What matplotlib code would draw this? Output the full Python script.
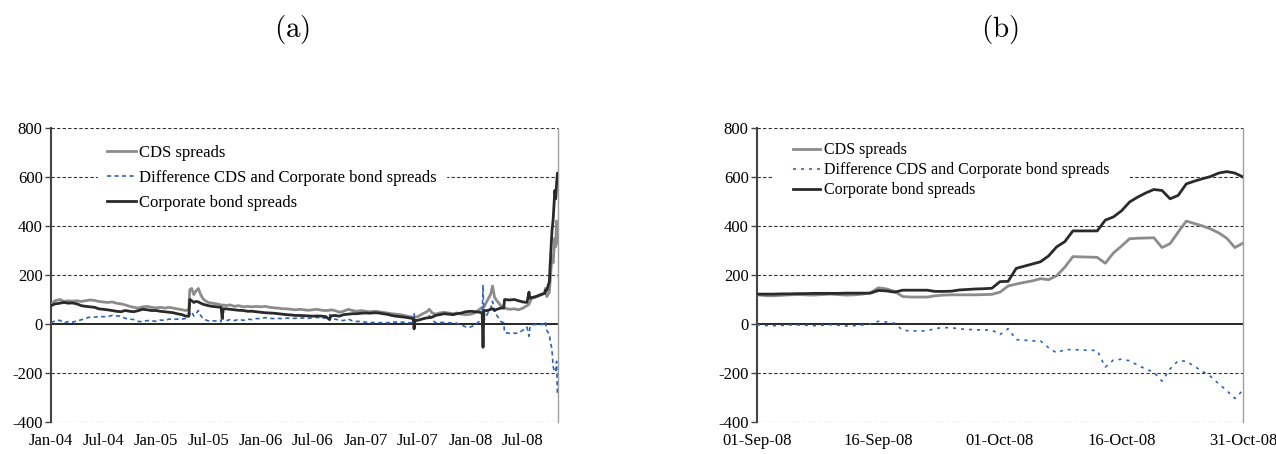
import matplotlib
matplotlib.use("Agg")
import matplotlib.pyplot as plt
import matplotlib.dates as mdates
import numpy as np
import pandas as pd

plt.rcParams["font.family"] = ["Liberation Serif", "DejaVu Serif"]
plt.rcParams["mathtext.fontset"] = "cm"
plt.rcParams["axes.unicode_minus"] = False

# ---- panel (a): Jan 2004 - Oct 2008, spreads in basis points ----
long_dates = [
    "2004-01-01", "2004-01-15", "2004-02-01", "2004-02-15", "2004-03-01", "2004-03-15",
    "2004-04-01", "2004-04-15", "2004-05-01", "2004-05-15", "2004-06-01", "2004-06-15",
    "2004-07-01", "2004-07-15", "2004-08-01", "2004-08-15", "2004-09-01", "2004-09-15",
    "2004-10-01", "2004-10-15", "2004-11-01", "2004-11-15", "2004-12-01", "2004-12-15",
    "2005-01-01", "2005-01-15", "2005-02-01", "2005-02-15", "2005-03-01", "2005-03-15",
    "2005-04-01", "2005-04-15", "2005-04-25", "2005-04-28", "2005-05-05", "2005-05-12",
    "2005-05-20", "2005-05-28", "2005-06-05", "2005-06-15", "2005-07-01", "2005-07-15",
    "2005-08-01", "2005-08-15", "2005-08-19", "2005-08-23", "2005-09-01", "2005-09-15",
    "2005-10-01", "2005-10-15", "2005-11-01", "2005-11-15", "2005-12-01", "2005-12-15",
    "2006-01-01", "2006-01-15", "2006-02-01", "2006-02-15", "2006-03-01", "2006-03-15",
    "2006-04-01", "2006-04-15", "2006-05-01", "2006-05-15", "2006-06-01", "2006-06-15",
    "2006-07-01", "2006-07-15", "2006-08-01", "2006-08-15", "2006-08-28", "2006-09-01",
    "2006-09-15", "2006-10-01", "2006-10-15", "2006-11-01", "2006-11-15", "2006-12-01",
    "2006-12-15", "2007-01-01", "2007-01-15", "2007-02-01", "2007-02-15", "2007-03-01",
    "2007-03-15", "2007-04-01", "2007-04-15", "2007-05-01", "2007-05-15", "2007-06-01",
    "2007-06-15", "2007-06-18", "2007-06-21", "2007-07-01", "2007-07-15", "2007-08-01",
    "2007-08-10", "2007-08-20", "2007-09-01", "2007-09-15", "2007-10-01", "2007-10-15",
    "2007-11-01", "2007-11-15", "2007-12-01", "2007-12-15", "2008-01-01", "2008-01-15",
    "2008-02-01", "2008-02-10", "2008-02-13", "2008-02-16", "2008-03-01", "2008-03-10",
    "2008-03-17", "2008-03-24", "2008-04-01", "2008-04-15", "2008-04-25", "2008-04-28",
    "2008-05-15", "2008-06-01", "2008-06-15", "2008-07-01", "2008-07-15", "2008-07-22",
    "2008-07-25", "2008-08-01", "2008-08-15", "2008-09-01", "2008-09-15", "2008-09-17",
    "2008-09-22", "2008-10-01", "2008-10-03", "2008-10-10", "2008-10-14", "2008-10-20",
    "2008-10-23", "2008-10-26", "2008-10-29", "2008-10-31",
]
long_cds = [
    80, 95, 100, 92, 95, 93,
    95, 92, 95, 98, 96, 92,
    90, 88, 90, 85, 82, 78,
    72, 68, 65, 70, 72, 68,
    66, 68, 65, 68, 65, 62,
    58, 55, 60, 140, 145, 120,
    135, 145, 120, 100, 88, 85,
    82, 78, 75, 78, 75, 78,
    72, 75, 70, 72, 70, 72,
    70, 72, 68, 66, 65, 62,
    62, 60, 58, 60, 58, 56,
    58, 60, 56, 55, 56, 58,
    55, 48, 52, 60, 55, 52,
    55, 52, 50, 52, 50, 48,
    45, 42, 40, 38, 35, 30,
    28, 25, 28, 30, 40, 50,
    60, 45, 40, 45, 48, 45,
    42, 45, 40, 38, 40, 45,
    60, 68, 65, 70, 100, 120,
    155, 110, 95, 75, 70, 65,
    60, 62, 58, 65, 75, 80,
    90, 105, 110, 118, 125, 145,
    112, 130, 165, 275, 250, 350,
    315, 420, 330, 330,
]
long_bond = [
    75, 82, 85, 88, 85, 86,
    82, 75, 72, 70, 68, 62,
    60, 58, 55, 52, 50, 55,
    52, 50, 55, 60, 58, 55,
    55, 52, 50, 48, 46, 42,
    38, 32, 32, 100, 95, 88,
    92, 90, 85, 80, 75, 72,
    70, 68, 25, 62, 62, 60,
    58, 56, 55, 52, 52, 50,
    48, 46, 45, 44, 42, 40,
    38, 37, 35, 35, 34, 33,
    32, 33, 32, 30, 18, 33,
    35, 32, 38, 40, 42, 42,
    44, 45, 44, 46, 45, 42,
    40, 35, 32, 30, 28, 25,
    22, -20, 15, 15, 20, 25,
    26, 28, 35, 38, 42, 40,
    38, 42, 45, 50, 52, 50,
    48, 45, -95, 55, 55, 60,
    62, 55, 60, 65, 65, 100,
    98, 100, 95, 90, 88, 130,
    105, 108, 112, 120, 126, 137,
    138, 173, 227, 380, 425, 545,
    511, 572, 616, 600,
]

# ---- panel (b): daily, 1 Sep - 31 Oct 2008 ----
short_cds = [
    119, 116, 115, 117, 119, 120, 119, 118, 120, 122,
    120, 118, 119, 122, 127, 148, 143, 133, 112, 110,
    110, 110, 115, 118, 119, 119, 119, 119, 120, 121,
    130, 155, 163, 170, 176, 185, 181, 197, 232, 275,
    274, 273, 272, 248, 290, 318, 348, 350, 351, 352,
    312, 328, 375, 420, 410, 400, 388, 372, 350, 312,
    330,
]
short_bond = [
    122, 122, 122, 123, 123, 124, 124, 125, 125, 125,
    125, 126, 126, 126, 126, 137, 135, 130, 138, 138,
    138, 138, 133, 133, 134, 139, 141, 143, 144, 146,
    173, 174, 227, 236, 245, 254, 278, 315, 336, 380,
    380, 380, 380, 424, 437, 462, 498, 518, 535, 549,
    545, 511, 525, 572, 583, 593, 602, 616, 622, 616,
    600,
]
short_dates = pd.date_range("2008-09-01", "2008-10-31", freq="D")

long_ticks = pd.date_range("2004-01-01", "2008-07-01", freq="6MS")
short_ticks = pd.to_datetime(["2008-09-01", "2008-09-16", "2008-10-01", "2008-10-16", "2008-10-31"])

CDS_COLOR = "#8c8c8c"
DIFF_COLOR = "#2f62b8"
BOND_COLOR = "#2a2a2a"


def draw_panel(ax, dates, cds, bond, diff_dash, legend_box, legend_size, row_gap, pad):
    cds = np.asarray(cds, dtype=float)
    bond = np.asarray(bond, dtype=float)
    ax.plot(dates, cds, color=CDS_COLOR, lw=2.0, label="CDS spreads", zorder=3)
    ax.plot(dates, cds - bond, color=DIFF_COLOR, lw=1.2, ls=(0, diff_dash),
            label="Difference CDS and Corporate bond spreads", zorder=3)
    ax.plot(dates, bond, color=BOND_COLOR, lw=2.0, label="Corporate bond spreads", zorder=4)

    ax.set_ylim(-400, 800)
    ax.set_yticks(np.arange(-400, 801, 200))
    for y in (-400, -200, 200, 400, 600, 800):
        # the top line stays visible above the legend box
        ax.axhline(y, color="#333333", lw=0.8, ls=(0, (3, 2)), zorder=6 if y == 800 else 1)
    ax.axhline(0, color="black", lw=1.2, zorder=2)

    for side in ("top", "bottom"):
        ax.spines[side].set_visible(False)
    ax.spines["left"].set_color("#444444")
    ax.spines["left"].set_linewidth(1.5)
    ax.spines["right"].set_color("#a0a0a0")
    ax.spines["right"].set_linewidth(1.0)

    ax.tick_params(axis="y", direction="out", length=4, width=1, color="#444444",
                   labelsize=12, pad=2)
    ax.tick_params(axis="x", length=0, labelsize=12, pad=8)

    # legend box only masks the gridlines, the series run over it
    leg = ax.legend(loc="upper left", bbox_to_anchor=legend_box, frameon=True,
                    fancybox=False, framealpha=1, edgecolor="white", facecolor="white",
                    fontsize=legend_size, handlelength=1.7, handletextpad=0.2,
                    labelspacing=row_gap, borderpad=pad, borderaxespad=0)
    leg.set_zorder(2.5)


fig = plt.figure(figsize=(12.76, 4.54), dpi=100)

ax_a = fig.add_axes([51 / 1276, 32 / 454, 507 / 1276, 294 / 454])
draw_panel(ax_a, pd.to_datetime(long_dates), long_cds, long_bond, (2.5, 2),
           (47 / 507, 0.975), 12, 0.55, 0.55)
ax_a.set_xlim(pd.Timestamp("2004-01-01"), pd.Timestamp("2008-10-31"))
ax_a.set_xticks(long_ticks)
ax_a.xaxis.set_major_formatter(mdates.DateFormatter("%b-%y"))

ax_b = fig.add_axes([757 / 1276, 32 / 454, 486 / 1276, 294 / 454])
draw_panel(ax_b, short_dates, short_cds, short_bond, (1.8, 3),
           (17 / 486, 1.017), 11.5, 0.25, 1.2)
ax_b.set_xlim(pd.Timestamp("2008-09-01"), pd.Timestamp("2008-10-31"))
ax_b.set_xticks(short_ticks)
ax_b.xaxis.set_major_formatter(mdates.DateFormatter("%d-%b-%y"))

fig.text(292 / 1276, 1 - 30 / 454, r"$\mathrm{(a)}$", fontsize=21, ha="center", va="center")
fig.text(1000 / 1276, 1 - 30 / 454, r"$\mathrm{(b)}$", fontsize=21, ha="center", va="center")

fig.savefig("out.png", dpi=100)
